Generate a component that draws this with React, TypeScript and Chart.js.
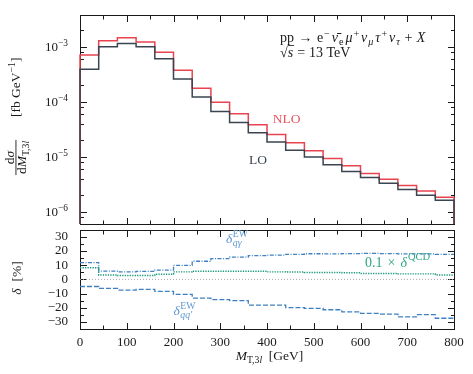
import React, { useEffect, useRef } from 'react';
import { Chart, registerables } from 'chart.js';

Chart.register(...registerables);

const FONT = '"Liberation Serif", "DejaVu Serif", serif';
const INK = '#1a1a1a';

// ---------- data ----------
const binLowEdges = [0, 40, 80, 120, 160, 200, 240, 280, 320, 360, 400, 440, 480, 520, 560, 600, 640, 680, 720, 760];
const binUpperEdge = 800;

const sigmaLO = [3.9e-4, 1.0e-3, 1.15e-3, 1.0e-3, 6.1e-4, 2.6e-4, 1.22e-4, 6.7e-5, 4.2e-5, 2.73e-5, 1.87e-5, 1.32e-5, 9.9e-6, 7.2e-6, 5.4e-6, 4.2e-6, 3.3e-6, 2.55e-6, 2.0e-6, 1.63e-6];
const sigmaNLO = [7.1e-4, 1.29e-3, 1.46e-3, 1.23e-3, 8.0e-4, 3.77e-4, 1.77e-4, 9.8e-5, 6.05e-5, 3.82e-5, 2.55e-5, 1.8e-5, 1.29e-5, 9.35e-6, 6.86e-6, 4.99e-6, 3.93e-6, 3.02e-6, 2.38e-6, 1.83e-6];

const deltaQGammaEW = [11.9, 5.8, 5.3, 5.6, 6.6, 9.9, 12.8, 14.6, 15.7, 16.8, 17.2, 17.7, 18.1, 18.0, 18.2, 18.3, 18.2, 18.0, 18.0, 17.7];
const deltaQCDTenth = [8.2, 3.1, 2.7, 2.8, 3.6, 5.3, 5.8, 5.8, 5.8, 5.8, 5.3, 5.2, 4.9, 4.9, 4.7, 4.2, 4.2, 3.9, 3.9, 3.1];
const deltaQQEW = [-5.0, -6.4, -7.5, -7.0, -8.4, -10.6, -13.2, -14.3, -15.0, -18.1, -18.1, -19.9, -20.5, -21.4, -22.9, -24.0, -24.5, -26.5, -24.9, -27.4];

const xMajorTicks = [0, 100, 200, 300, 400, 500, 600, 700, 800];
const xMinorTicks = [50, 150, 250, 350, 450, 550, 650, 750];
const logDecades = [1e-6, 1e-5, 1e-4, 1e-3];
const logDecadeLabels = ['−6', '−5', '−4', '−3'];
const logMinorDecades = [1e-7, 1e-6, 1e-5, 1e-4, 1e-3];
const logMinorMultipliers = [2, 4, 6, 8];
const deltaMajorTicks = [-30, -20, -10, 0, 10, 20, 30];
const deltaMinorTicks = [-25, -15, -5, 5, 15, 25];

const Y_TOP_MIN = 6e-7;
const Y_TOP_MAX = 3.8e-3;
const Y_BOT_MIN = -35;
const Y_BOT_MAX = 35;

const BOT_OFFSET = 210;

const COL_NLO = '#e8434f';
const COL_LO = '#3a4551';
const COL_BLUE = '#3f80c2';
const COL_BLUE_TXT = '#5f98d2';
const COL_GREEN = '#1c9b7b';
const COL_GREEN_TXT = '#2fa586';

// ---------- helpers ----------
type Seg = { t: string; it?: boolean; sc?: number; dy?: number; back?: boolean; gap?: number };

function layoutRich(ctx: CanvasRenderingContext2D, segs: Seg[], size: number) {
  let x = 0;
  let maxX = 0;
  let lastStart = 0;
  const items: { t: string; x: number; dy: number; font: string; w: number }[] = [];
  for (const s of segs) {
    const sz = size * (s.sc ?? 1);
    const font = `${s.it ? 'italic ' : ''}${sz}px ${FONT}`;
    ctx.font = font;
    if (s.back) x = lastStart;
    lastStart = x;
    const w = ctx.measureText(s.t).width;
    items.push({ t: s.t, x, dy: s.dy ?? 0, font, w });
    x += w + (s.gap ?? 0);
    maxX = Math.max(maxX, x);
  }
  return { items, width: maxX };
}

function drawRich(
  ctx: CanvasRenderingContext2D,
  segs: Seg[],
  x: number,
  y: number,
  size: number,
  color: string,
  align: 'left' | 'center' | 'right' = 'left'
) {
  const { items, width } = layoutRich(ctx, segs, size);
  const x0 = align === 'center' ? x - width / 2 : align === 'right' ? x - width : x;
  ctx.save();
  ctx.fillStyle = color;
  ctx.textAlign = 'left';
  ctx.textBaseline = 'alphabetic';
  for (const it of items) {
    ctx.font = it.font;
    ctx.fillText(it.t, x0 + it.x, y + it.dy);
  }
  ctx.restore();
  return { x0, width, items };
}

function stepPoints(vals: number[], floor?: number) {
  const pts: { x: number; y: number }[] = [];
  if (floor !== undefined) pts.push({ x: binLowEdges[0], y: floor });
  vals.forEach((v, i) => pts.push({ x: binLowEdges[i], y: v }));
  pts.push({ x: binUpperEdge, y: vals[vals.length - 1] });
  if (floor !== undefined) pts.push({ x: binUpperEdge, y: floor });
  return pts;
}

function crisp(v: number) {
  return Math.round(v) + 0.5;
}

function drawFrameAndTicks(chart: any, yMajor: number[], yMinor: number[]) {
  const { ctx, chartArea: a, scales } = chart;
  const xs = scales.x;
  const ys = scales.y;
  const L = crisp(a.left);
  const R = crisp(a.right);
  const T = crisp(a.top);
  const B = crisp(a.bottom);
  ctx.save();
  ctx.strokeStyle = INK;
  ctx.lineWidth = 1;
  ctx.beginPath();
  const vt = (v: number, len: number) => {
    const p = crisp(xs.getPixelForValue(v));
    if (p <= L + 1 || p >= R - 1) return;
    ctx.moveTo(p, T);
    ctx.lineTo(p, T + len);
    ctx.moveTo(p, B);
    ctx.lineTo(p, B - len);
  };
  const ht = (v: number, len: number) => {
    const p = crisp(ys.getPixelForValue(v));
    if (p <= T + 1 || p >= B - 1) return;
    ctx.moveTo(L, p);
    ctx.lineTo(L + len, p);
    ctx.moveTo(R, p);
    ctx.lineTo(R - len, p);
  };
  xMajorTicks.forEach((v) => vt(v, 6.5));
  xMinorTicks.forEach((v) => vt(v, 4));
  yMajor.forEach((v) => ht(v, 6.5));
  yMinor.forEach((v) => ht(v, 3.5));
  ctx.stroke();
  ctx.strokeRect(L, T, R - L, B - T);
  ctx.restore();
}

// ---------- plugins ----------
const topDecor = {
  id: 'topDecor',
  beforeDatasetsDraw(chart: any) {
    const minors = logMinorDecades
      .flatMap((d) => logMinorMultipliers.map((m) => m * d))
      .filter((v) => v > Y_TOP_MIN && v < Y_TOP_MAX);
    drawFrameAndTicks(chart, logDecades, minors);
  },
  afterDraw(chart: any) {
    const { ctx, scales } = chart;
    const ys = scales.y;
    logDecades.forEach((d, i) => {
      const py = ys.getPixelForValue(d);
      drawRich(ctx, [{ t: '10' }, { t: logDecadeLabels[i], sc: 0.72, dy: -5.5 }], 68, py + 4.5, 13, INK, 'right');
    });
    drawRich(
      ctx,
      [
        { t: 'pp', gap: 4.5 },
        { t: '→', gap: 4.5 },
        { t: 'e', gap: 0.8 },
        { t: '−', sc: 0.72, dy: -5.5, gap: 2 },
        { t: 'ν̄', it: true, gap: 1 },
        { t: 'e', sc: 0.72, dy: 2.5, gap: 2 },
        { t: 'μ', it: true, gap: 1 },
        { t: '+', sc: 0.72, dy: -5.5, gap: 2 },
        { t: 'ν', it: true, gap: 1 },
        { t: 'μ', it: true, sc: 0.72, dy: 2.5, gap: 2 },
        { t: 'τ', it: true, gap: 1 },
        { t: '+', sc: 0.72, dy: -5.5, gap: 2 },
        { t: 'ν', it: true, gap: 1 },
        { t: 'τ', it: true, sc: 0.72, dy: 2.5, gap: 4.5 },
        { t: '+', gap: 4.5 },
        { t: 'X', it: true },
      ],
      280,
      42,
      14,
      INK
    );
    const r = drawRich(ctx, [{ t: '√' }, { t: 's', it: true, gap: 4 }, { t: '=', gap: 4 }, { t: '13 TeV' }], 280, 56.5, 14, INK);
    const sItem = r.items[1];
    ctx.save();
    ctx.fillStyle = INK;
    ctx.fillRect(r.x0 + sItem.x, 56.5 - 11.5, sItem.w + 1, 0.8);
    ctx.restore();
    drawRich(ctx, [{ t: 'NLO' }], 272.7, 122.7, 13.5, '#e9545f');
    drawRich(ctx, [{ t: 'LO' }], 249, 164, 13.5, COL_LO);
    // y axis title (rotated)
    ctx.save();
    ctx.translate(16, 120);
    ctx.rotate(-Math.PI / 2);
    const cx = -37.5;
    const n = drawRich(ctx, [{ t: 'd' }, { t: 'σ', it: true }], cx, -2.5, 13.5, INK, 'center');
    const dn = drawRich(
      ctx,
      [{ t: 'd' }, { t: 'M', it: true }, { t: 'T,3', sc: 0.72, dy: 2.5 }, { t: 'l', it: true, sc: 0.72, dy: 2.5 }],
      cx,
      10,
      13.5,
      INK,
      'center'
    );
    const bw = Math.max(n.width, dn.width) + 2;
    ctx.fillStyle = INK;
    ctx.fillRect(cx - bw / 2, -0.5, bw, 0.9);
    drawRich(ctx, [{ t: '[fb GeV' }, { t: '−1', sc: 0.72, dy: -5.5 }, { t: ']' }], 3, 4, 13.5, INK);
    ctx.restore();
  },
};

const botDecor = {
  id: 'botDecor',
  beforeDatasetsDraw(chart: any) {
    drawFrameAndTicks(chart, deltaMajorTicks, deltaMinorTicks);
  },
  afterDraw(chart: any) {
    const { ctx } = chart;
    const sy = (y: number) => y - BOT_OFFSET;
    drawRich(
      ctx,
      [{ t: 'δ', it: true, gap: 0.5 }, { t: 'EW', sc: 0.72, dy: -6.5 }, { t: 'qγ', it: true, sc: 0.72, dy: 3, back: true }],
      226,
      sy(243.3),
      13.5,
      COL_BLUE_TXT
    );
    drawRich(
      ctx,
      [{ t: 'δ', it: true, gap: 0.5 }, { t: 'EW', sc: 0.72, dy: -6.5 }, { t: 'qq′', it: true, sc: 0.72, dy: 3, back: true }],
      173.5,
      sy(315),
      13.5,
      COL_BLUE_TXT
    );
    drawRich(
      ctx,
      [{ t: '0.1', gap: 5 }, { t: '×', gap: 5 }, { t: 'δ', it: true, gap: 1 }, { t: 'QCD', sc: 0.75, dy: -6.5 }],
      365,
      sy(266.7),
      14,
      COL_GREEN_TXT
    );
    drawRich(
      ctx,
      [{ t: 'M', it: true }, { t: 'T,3', sc: 0.72, dy: 3 }, { t: 'l', it: true, sc: 0.72, dy: 3 }, { t: '  [GeV]' }],
      269.5,
      sy(360),
      13.5,
      INK,
      'center'
    );
    ctx.save();
    ctx.translate(20.5, sy(278));
    ctx.rotate(-Math.PI / 2);
    drawRich(ctx, [{ t: 'δ', it: true }, { t: '  [%]' }], 0, 0, 13.5, INK, 'center');
    ctx.restore();
  },
};

// ---------- configs ----------
function topConfig(): any {
  return {
    type: 'line',
    data: {
      datasets: [
        {
          label: 'LO',
          data: stepPoints(sigmaLO, Y_TOP_MIN),
          borderColor: COL_LO,
          borderWidth: 1.5,
          stepped: 'before',
          pointRadius: 0,
          fill: false,
          clip: { left: 3, right: 3, top: 0, bottom: 0 },
        },
        {
          label: 'NLO',
          data: stepPoints(sigmaNLO, Y_TOP_MIN),
          borderColor: COL_NLO,
          borderWidth: 1.5,
          stepped: 'before',
          pointRadius: 0,
          fill: false,
          clip: { left: 3, right: 3, top: 0, bottom: 0 },
        },
      ],
    },
    options: {
      animation: false,
      responsive: false,
      maintainAspectRatio: false,
      events: [],
      layout: { padding: { left: 0, right: 19, top: 15, bottom: 14 } },
      plugins: { legend: { display: false }, tooltip: { enabled: false } },
      scales: {
        x: { type: 'linear', min: 0, max: 800, display: false },
        y: {
          type: 'logarithmic',
          min: Y_TOP_MIN,
          max: Y_TOP_MAX,
          position: 'left',
          grid: { display: false, drawTicks: false },
          border: { display: false },
          ticks: { display: false },
          afterFit: (s: any) => {
            s.width = 80;
          },
        },
      },
    },
    plugins: [topDecor],
  };
}

function botConfig(): any {
  return {
    type: 'line',
    data: {
      datasets: [
        {
          label: 'zero',
          data: [
            { x: 0, y: 0 },
            { x: 800, y: 0 },
          ],
          borderColor: '#a8a8a8',
          borderWidth: 1,
          borderDash: [1, 2],
          pointRadius: 0,
          fill: false,
        },
        {
          label: '0.1 x deltaQCD',
          data: stepPoints(deltaQCDTenth),
          borderColor: COL_GREEN,
          borderWidth: 1.4,
          borderDash: [1.3, 1.2],
          stepped: 'before',
          pointRadius: 0,
          fill: false,
        },
        {
          label: 'delta qgamma EW',
          data: stepPoints(deltaQGammaEW),
          borderColor: COL_BLUE,
          borderWidth: 1.3,
          borderDash: [4, 1.5, 1, 1.5],
          stepped: 'before',
          pointRadius: 0,
          fill: false,
        },
        {
          label: "delta qq' EW",
          data: stepPoints(deltaQQEW),
          borderColor: COL_BLUE,
          borderWidth: 1.3,
          borderDash: [5, 2],
          stepped: 'before',
          pointRadius: 0,
          fill: false,
        },
      ],
    },
    options: {
      animation: false,
      responsive: false,
      maintainAspectRatio: false,
      events: [],
      layout: { padding: { left: 0, right: 19, top: 14, bottom: 0 } },
      plugins: { legend: { display: false }, tooltip: { enabled: false } },
      scales: {
        x: {
          type: 'linear',
          min: 0,
          max: 800,
          position: 'bottom',
          grid: { display: false, drawTicks: false },
          border: { display: false },
          afterBuildTicks: (s: any) => {
            s.ticks = xMajorTicks.map((v) => ({ value: v }));
          },
          ticks: {
            padding: 6,
            color: INK,
            maxRotation: 0,
            autoSkip: false,
            font: { family: FONT, size: 13 },
            callback: (v: any) => String(v),
          },
          afterFit: (s: any) => {
            s.height = 45;
          },
        },
        y: {
          type: 'linear',
          min: Y_BOT_MIN,
          max: Y_BOT_MAX,
          position: 'left',
          grid: { display: false, drawTicks: false },
          border: { display: false },
          afterBuildTicks: (s: any) => {
            s.ticks = deltaMajorTicks.map((v) => ({ value: v }));
          },
          ticks: {
            padding: 12,
            color: INK,
            autoSkip: false,
            font: { family: FONT, size: 13 },
            callback: (v: any) => (v < 0 ? '−' + Math.abs(v) : String(v)),
          },
          afterFit: (s: any) => {
            s.width = 80;
          },
        },
      },
    },
    plugins: [botDecor],
  };
}

export default function App() {
  const topRef = useRef<HTMLCanvasElement>(null);
  const botRef = useRef<HTMLCanvasElement>(null);
  useEffect(() => {
    const c1 = new Chart(topRef.current as HTMLCanvasElement, topConfig());
    const c2 = new Chart(botRef.current as HTMLCanvasElement, botConfig());
    return () => {
      c1.destroy();
      c2.destroy();
    };
  }, []);
  return (
    <div style={{ position: 'fixed', left: 0, top: 0, width: 473, height: 374, background: '#fff' }}>
      <canvas
        ref={topRef}
        width={473}
        height={238}
        style={{ position: 'absolute', left: 0, top: 0, width: 473, height: 238 }}
      />
      <canvas
        ref={botRef}
        width={473}
        height={164}
        style={{ position: 'absolute', left: 0, top: BOT_OFFSET, width: 473, height: 164 }}
      />
    </div>
  );
}
